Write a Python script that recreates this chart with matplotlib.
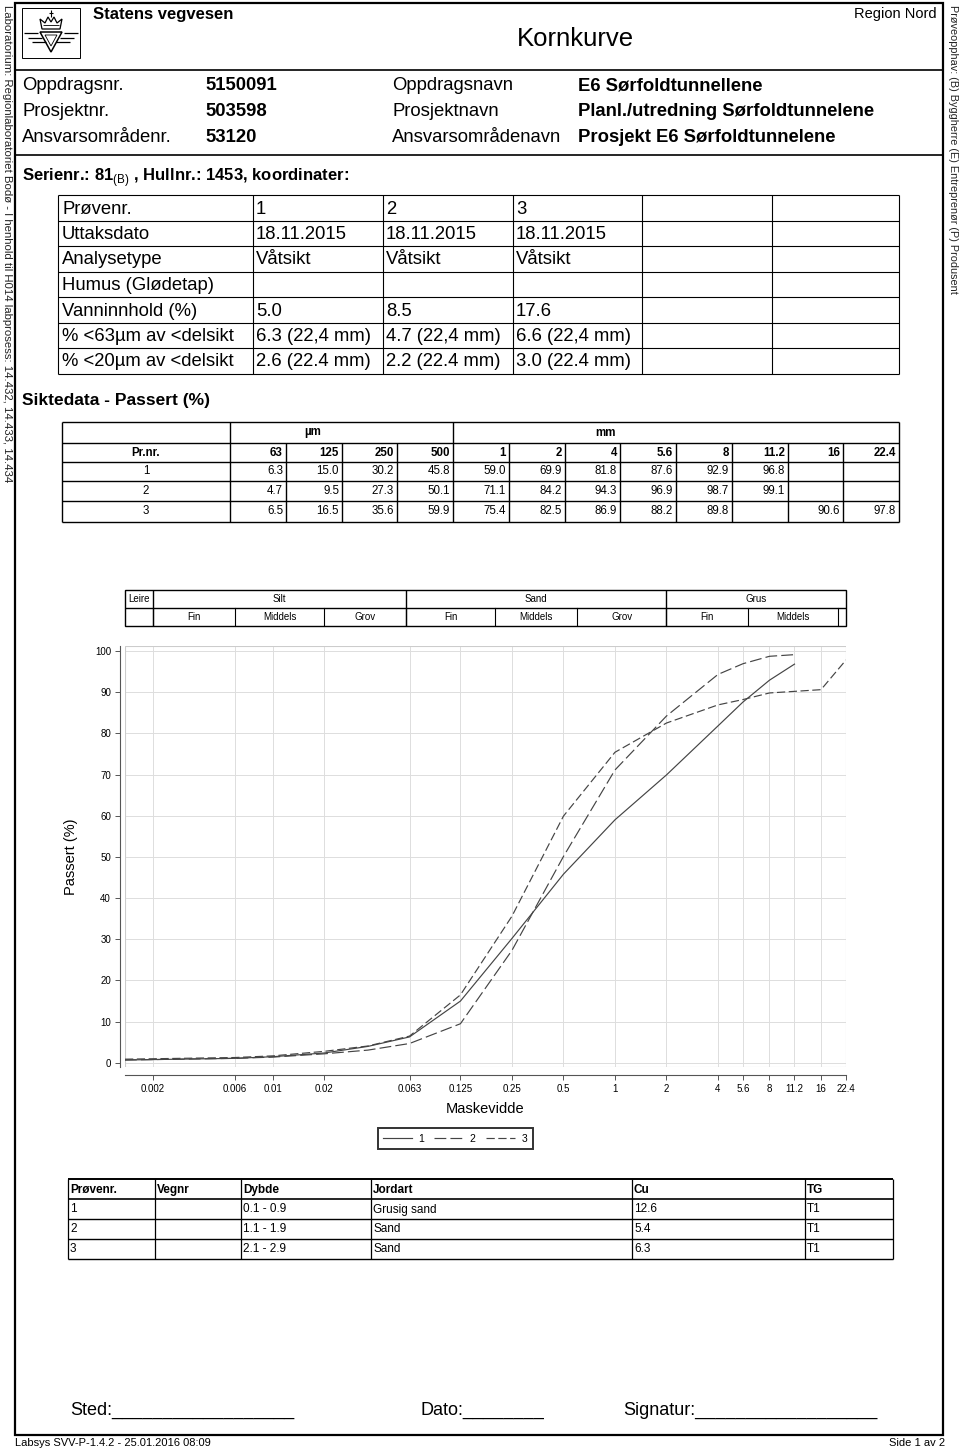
import matplotlib
matplotlib.use('Agg')
import matplotlib.pyplot as plt
from matplotlib.patches import Rectangle, Polygon

plt.rcParams['font.family'] = ['Liberation Sans', 'DejaVu Sans']
plt.rcParams['mathtext.fontset'] = 'custom'
plt.rcParams['mathtext.rm'] = 'Liberation Sans'

# ---------------- data ----------------
project_labels = ['Oppdragsnr.', 'Prosjektnr.', 'Ansvarsområdenr.']
project_values = ['5150091', '503598', '53120']
name_labels = ['Oppdragsnavn', 'Prosjektnavn', 'Ansvarsområdenavn']
name_values = ['E6 Sørfoldtunnellene', 'Planl./utredning Sørfoldtunnelene',
               'Prosjekt E6 Sørfoldtunnelene']

sample_rows = ['Prøvenr.', 'Uttaksdato', 'Analysetype', 'Humus (Glødetap)',
               'Vanninnhold (%)', '% <63µm av <delsikt', '% <20µm av <delsikt']
sample_ids = ['1', '2', '3']
sample_dates = ['18.11.2015', '18.11.2015', '18.11.2015']
analysis_type = ['Våtsikt', 'Våtsikt', 'Våtsikt']
humus = ['', '', '']
water_content = ['5.0', '8.5', '17.6']
fines_63 = ['6.3 (22,4 mm)', '4.7 (22,4 mm)', '6.6 (22,4 mm)']
fines_20 = ['2.6 (22.4 mm)', '2.2 (22.4 mm)', '3.0 (22.4 mm)']

sieve_labels = ['63', '125', '250', '500', '1', '2', '4', '5.6', '8', '11.2', '16', '22.4']
sieve_mm = [0.063, 0.125, 0.25, 0.5, 1, 2, 4, 5.6, 8, 11.2, 16, 22.4]
passing_1 = [6.3, 15.0, 30.2, 45.8, 59.0, 69.9, 81.8, 87.6, 92.9, 96.8, None, None]
passing_2 = [4.7, 9.5, 27.3, 50.1, 71.1, 84.2, 94.3, 96.9, 98.7, 99.1, None, None]
passing_3 = [6.5, 16.5, 35.6, 59.9, 75.4, 82.5, 86.9, 88.2, 89.8, None, 90.6, 97.8]

# fine part of the curves
fine_mm = [0.00137, 0.006, 0.01, 0.02, 0.036]
fine_1 = [0.7, 1.1, 1.5, 2.4, 4.0]
fine_2 = [0.7, 1.1, 1.4, 2.2, 3.1]
fine_3 = [0.9, 1.3, 1.7, 2.8, 4.1]

x_ticks = [0.002, 0.006, 0.01, 0.02, 0.063, 0.125, 0.25, 0.5, 1, 2, 4, 5.6, 8, 11.2, 16, 22.4]
x_ticklabels = ['0.002', '0.006', '0.01', '0.02', '0.063', '0.125', '0.25', '0.5',
                '1', '2', '4', '5.6', '8', '11.2', '16', '22.4']
x_min, x_max = 0.00137, 22.4

class_main = ['Leire', 'Silt', 'Sand', 'Grus']
class_main_edges = [x_min, 0.002, 0.06, 2, x_max]
class_sub = ['Fin', 'Middels', 'Grov', 'Fin', 'Middels', 'Grov', 'Fin', 'Middels', '']
class_sub_edges = [0.002, 0.006, 0.02, 0.06, 0.2, 0.6, 2, 6, 20, x_max]

soil_header = ['Prøvenr.', 'Vegnr', 'Dybde', 'Jordart', 'Cu', 'TG']
soil_ids = ['1', '2', '3']
soil_vegnr = ['', '', '']
soil_depth = ['0.1 - 0.9', '1.1 - 1.9', '2.1 - 2.9']
soil_type = ['Grusig sand', 'Sand', 'Sand']
soil_cu = ['12.6', '5.4', '6.3']
soil_tg = ['T1', 'T1', 'T1']

W, H = 960, 1451
fig = plt.figure(figsize=(W / 100, H / 100), dpi=100)
page = fig.add_axes([0, 0, 1, 1])
page.set_xlim(0, W)
page.set_ylim(H, 0)
page.axis('off')


def hline(y, x0, x1, lw=0.8, color='black'):
    page.plot([x0, x1], [y, y], color=color, lw=lw, solid_capstyle='butt')


def vline(x, y0, y1, lw=0.8, color='black'):
    page.plot([x, x], [y0, y1], color=color, lw=lw, solid_capstyle='butt')


def txt(x, y, s, size=13, ha='left', weight='normal', **kw):
    page.text(x, y, s, fontsize=size, ha=ha, va='center', fontweight=weight, **kw)


# page frame
page.add_patch(Rectangle((15, 3), 928, 1432, fill=False, ec='black', lw=1.6))
hline(70, 15, 943, lw=1.2)
hline(155, 15, 943, lw=1.2)

# side texts
page.text(7, 5, 'Laboratorium: Regionlaboratoriet Bodø - I henhold til H014 labprosess: 14.432, 14.433, 14.434',
          rotation=270, fontsize=8.2, ha='center', va='top', color='#222222')
page.text(953, 5, 'Prøveopphav: (B) Byggherre (E) Entreprenør (P) Produsent',
          rotation=270, fontsize=7.8, ha='center', va='top', color='#222222')

# logo
page.add_patch(Rectangle((22, 8), 58, 50, fill=False, ec='black', lw=0.7))
page.add_patch(Polygon([(42, 29), (60, 29), (62, 19), (57, 23), (54, 17), (51, 22),
                        (48, 17), (45, 23), (40, 19)], closed=True, fill=False, ec='black', lw=0.9))
hline(25, 43, 59, lw=0.6)
vline(51, 10, 17, lw=0.8)
hline(12.5, 49, 53, lw=0.8)
page.add_patch(Polygon([(40, 32), (62, 32), (51, 52)], closed=True, fill=False, ec='black', lw=1.1))
page.add_patch(Polygon([(45, 35), (57, 35), (51, 46)], closed=True, fill=False, ec='black', lw=0.6))
for dy, (xa, xb) in zip([33, 37.5, 42], [(24, 78), (28, 74), (32, 70)]):
    hline(dy, xa, xa + 14, lw=0.9)
    hline(dy, xb - 14, xb, lw=0.9)

txt(93, 15, 'Statens vegvesen', size=12, weight='bold')
txt(937, 14, 'Region Nord', size=10.5, ha='right')
txt(575, 39, 'Kornkurve', size=18.5, ha='center')

for i in range(3):
    yy = 86 + i * 26
    txt(22, yy, project_labels[i], size=13.3)
    txt(205, yy, project_values[i], size=13.3, weight='bold')
    txt(392, yy, name_labels[i], size=13.3)
    txt(578, yy, name_values[i], size=13.3, weight='bold')

txt(22, 178, r'Serienr.: 81$_{\mathrm{(B)}}$ , Hullnr.: 1453, koordinater:', size=12, weight='bold')

# sample table
t1_x = [58, 253, 383, 513, 642, 772, 899]
t1_y = [195, 221, 246, 272, 297, 323, 348, 374]
for y in t1_y:
    hline(y, t1_x[0], t1_x[-1])
for x in t1_x:
    vline(x, t1_y[0], t1_y[-1])
t1_cols = [sample_ids, sample_dates, analysis_type, humus, water_content, fines_63, fines_20]
for r, label in enumerate(sample_rows):
    yc = (t1_y[r] + t1_y[r + 1]) / 2 + 1
    txt(t1_x[0] + 4, yc, label, size=13.3)
    for c, val in enumerate(t1_cols[r]):
        txt(t1_x[c + 1] + 3, yc, val, size=13.3)

txt(22, 401, 'Siktedata - Passert (%)', size=12.5, weight='bold')

# sieve table
t2_x = [62, 230, 286, 342, 397, 453, 509, 565, 620, 676, 732, 788, 843, 899]
t2_y = [422, 443, 462, 481, 501, 522]
for y in t2_y:
    hline(y, t2_x[0], t2_x[-1], lw=1.0)
vline(t2_x[0], t2_y[0], t2_y[-1], lw=1.0)
vline(t2_x[-1], t2_y[0], t2_y[-1], lw=1.0)
for x in [230, 453]:
    vline(x, t2_y[0], t2_y[1], lw=1.0)
for x in t2_x[1:-1]:
    vline(x, t2_y[1], t2_y[-1], lw=1.0)
txt(313, 432.5, 'µm', size=8.3, weight='bold', ha='center')
txt(605, 432.5, 'mm', size=8.3, weight='bold', ha='center')
txt(146, 452.5, 'Pr.nr.', size=8.3, weight='bold', ha='center')
for c, lab in enumerate(sieve_labels):
    txt(t2_x[c + 2] - 3, 452.5, lab, size=8.3, weight='bold', ha='right')
for r, row in enumerate([passing_1, passing_2, passing_3]):
    yc = (t2_y[r + 2] + t2_y[r + 3]) / 2
    txt(146, yc, sample_ids[r], size=8.3, ha='center')
    for c, v in enumerate(row):
        if v is not None:
            txt(t2_x[c + 2] - 3, yc, f'{v:.1f}', size=8.3, ha='right')

# soil class band above chart
L, R = 125, 846
band = fig.add_axes([L / W, 1 - 626 / H, (R - L) / W, (626 - 590) / H])
band.set_xscale('log')
band.set_xlim(x_min, x_max)
band.set_ylim(0, 2)
band.axis('off')
band.add_patch(Rectangle((0, 0), 1, 1, transform=band.transAxes, fill=False, ec='black', lw=1.0, clip_on=False))
band.plot([x_min, x_max], [1, 1], color='black', lw=1.0)
for e in class_main_edges[1:-1]:
    band.plot([e, e], [0, 2], color='black', lw=1.0)
for e in class_sub_edges[:-1]:
    band.plot([e, e], [0, 1], color='black', lw=0.8)
for i, name in enumerate(class_main):
    xc = (class_main_edges[i] * class_main_edges[i + 1]) ** 0.5
    band.text(xc, 1.5, name, ha='center', va='center', fontsize=7)
for i, name in enumerate(class_sub):
    xc = (class_sub_edges[i] * class_sub_edges[i + 1]) ** 0.5
    band.text(xc, 0.5, name, ha='center', va='center', fontsize=7)

# grain size chart
T, B = 646, 1067
ax = fig.add_axes([L / W, 1 - B / H, (R - L) / W, (B - T) / H])
ax.set_xscale('log')
ax.set_xlim(x_min, x_max)
ax.set_ylim(-1.0, 101.2)
ax.set_xticks(x_ticks)
ax.set_xticklabels(x_ticklabels)
ax.minorticks_off()
ax.set_yticks(range(0, 101, 10))
ax.grid(True, color='#dddddd', lw=0.7)
ax.set_axisbelow(True)
for s in ['top', 'right']:
    ax.spines[s].set_visible(False)
ax.spines['left'].set_position(('outward', 3.6))
ax.spines['bottom'].set_position(('outward', 5.8))
for s in ['left', 'bottom']:
    ax.spines[s].set_color('#555555')
    ax.spines[s].set_linewidth(0.8)
ax.add_patch(Rectangle((0, 0), 1, 1, transform=ax.transAxes, fill=False, ec='#cccccc', lw=0.8))
ax.tick_params(length=3.5, width=0.7, color='#555555', labelsize=7, pad=3)

styles = [dict(ls='-'), dict(ls=(0, (10, 3.5))), dict(ls=(0, (7, 3)))]
curves = [(fine_1, passing_1), (fine_2, passing_2), (fine_3, passing_3)]
handles = []
for i, (fine, coarse) in enumerate(curves):
    xs = list(fine_mm) + [s for s, v in zip(sieve_mm, coarse) if v is not None]
    ys = list(fine) + [v for v in coarse if v is not None]
    ln, = ax.plot(xs, ys, color='#444444', lw=0.85, **styles[i], label=sample_ids[i])
    handles.append(ln)

ax.set_ylabel('Passert (%)', fontsize=10.5, labelpad=12)
ax.set_xlabel('Maskevidde', fontsize=10.5, labelpad=6)

leg = ax.legend(handles=handles, loc='center', bbox_to_anchor=(455 / W, 1 - 1138.5 / H),
                bbox_transform=fig.transFigure, ncol=3, fontsize=7.5, frameon=True,
                fancybox=False, edgecolor='black', handlelength=2.8, columnspacing=1.0,
                handletextpad=0.6, borderpad=0.5)
leg.get_frame().set_linewidth(1.4)

# soil type table
t3_x = [68, 155, 241, 371, 632, 805, 893]
t3_y = [1179, 1199, 1219, 1239, 1259]
hline(t3_y[0], t3_x[0], t3_x[-1], lw=1.4)
hline(t3_y[1], t3_x[0], t3_x[-1], lw=1.2)
for y in t3_y[2:]:
    hline(y, t3_x[0], t3_x[-1], lw=1.0)
for x in t3_x:
    vline(x, t3_y[0], t3_y[-1], lw=0.9)
for c, head in enumerate(soil_header):
    txt(t3_x[c] + 2, 1190, head, size=8.5, weight='bold')
t3_cols = [soil_ids, soil_vegnr, soil_depth, soil_type, soil_cu, soil_tg]
for r in range(3):
    yc = (t3_y[r + 1] + t3_y[r + 2]) / 2 + 0.5
    for c, col in enumerate(t3_cols):
        txt(t3_x[c] + 2, yc, col[r], size=8.5)

# signature line
txt(70, 1410, 'Sted:' + '_' * 18, size=13)
txt(420, 1410, 'Dato:' + '_' * 8, size=13)
txt(623, 1410, 'Signatur:' + '_' * 18, size=13)

txt(15, 1443, 'Labsys SVV-P-1.4.2 - 25.01.2016 08:09', size=8)
txt(945, 1443, 'Side 1 av 2', size=8, ha='right')

fig.savefig('out.png', dpi=100)
